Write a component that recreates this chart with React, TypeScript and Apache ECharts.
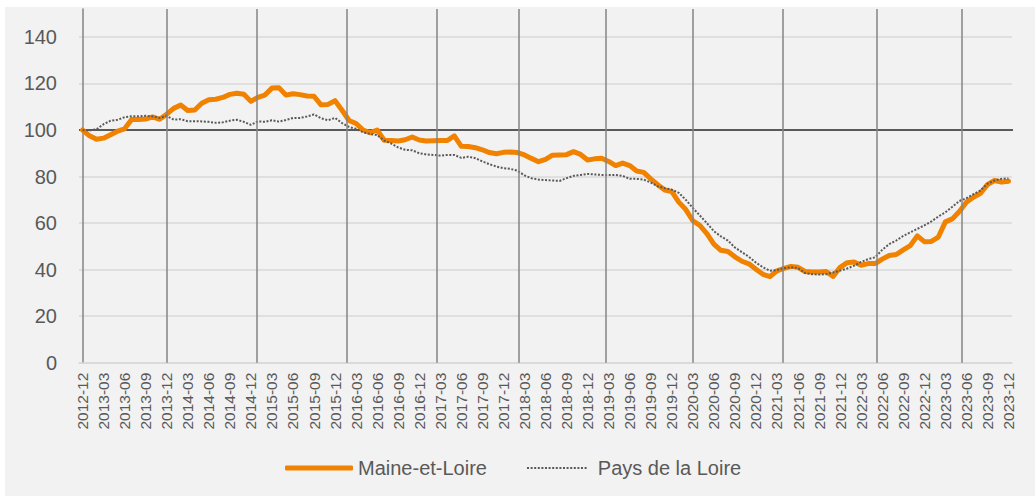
import React, { useEffect, useRef } from "react";
import * as echarts from "echarts";

// Monthly categories 2012-12 .. 2023-12
const categories: string[] = [];
for (let y = 2012; y <= 2023; y++) {
  for (let m = 1; m <= 12; m++) {
    if (y === 2012 && m < 12) continue;
    categories.push(`${y}-${String(m).padStart(2, "0")}`);
  }
}

const maineEtLoire: number[] = [
  100, 97.5, 96, 96.5, 98, 99.5, 100.5, 104.5, 104.5, 104.7, 105.6, 104.6, 106.8, 109.3, 110.7,
  108.4, 108.6, 111.5, 113, 113.2, 114, 115.3, 115.8, 115.4, 112.3, 114, 115, 118, 118.2, 115,
  115.6, 115.2, 114.6, 114.5, 110.8, 111, 112.6, 108.5, 104.1, 102.8, 100, 98.8, 100, 95.6, 95.5,
  95.3, 95.8, 97, 95.7, 95.3, 95.4, 95.5, 95.5, 97.5, 93, 92.9, 92.4, 91.5, 90.3, 89.8,
  90.4, 90.5, 90.3, 89.3, 87.8, 86.4, 87.4, 89.2, 89.3, 89.4, 90.7, 89.5, 87.1, 87.6, 87.9,
  86.5, 84.7, 85.8, 84.7, 82.4, 81.8, 79, 76.5, 74.2, 73.5, 69, 65.8, 61, 59, 55.5,
  51, 48.3, 47.8, 45.5, 43.6, 42.5, 40.2, 38, 37, 39.5, 40.5, 41.4, 41, 39.2, 39,
  39, 39.2, 37.1, 41, 43, 43.3, 41.9, 42.6, 42.6, 44.5, 46.1, 46.5, 48.5, 50.3, 54.5,
  52, 52.1, 54, 60.5, 61.8, 65, 69, 71.1, 72.8, 76.5, 78.3, 77.6, 78,
];

const paysDeLaLoire: number[] = [
  100, 99.8, 100.3, 102.5, 104, 104.4, 105.5, 105.9, 105.9, 106.1, 105.8, 105.2, 106, 104.5, 104.6,
  103.8, 103.8, 103.7, 103.5, 103.1, 103.3, 104, 104.4, 103.5, 102.2, 103.7, 103.5, 104.2, 103.6, 104.3,
  105.2, 105.2, 105.8, 106.7, 105, 104.2, 105.2, 103, 101.3, 100.5, 99, 98.3, 97.8, 95.5, 94.2,
  92.5, 91.5, 91.3, 90, 89.5, 89.3, 89, 89.3, 89.3, 88, 88.5, 87.9, 86.5, 85.3, 84.3,
  83.6, 83.3, 82.5, 80.5, 79.3, 78.7, 78.5, 78.3, 78.1, 79.3, 80.3, 80.7, 81.1, 80.9, 80.7,
  80.7, 80.7, 80.3, 79, 79, 78.7, 77.4, 75.8, 75, 74.4, 73, 70, 66.5, 63.3, 60,
  56.5, 54.3, 52.5, 49.5, 47.5, 45.5, 43, 41, 39.5, 39.8, 40.6, 41, 40.7, 38.5, 38,
  37.9, 38, 38.8, 39.6, 40.5, 41.7, 43.3, 44.5, 45.3, 48.5, 51, 52.5, 54.5, 56, 57.5,
  59, 60.7, 62.8, 64.6, 67, 69.5, 70.7, 72.4, 74, 76.9, 78.3, 79, 79.2,
];

const baseValue = 100;
// reference line span, in month units (0 = 2012-12)
const baseSpan: number[] = [-0.5, 134];
// vertical separators, in month units
const verticalMarks: number[] = [12.05, 24.9, 37.7, 50.5, 62.2, 74.6, 87.0, 99.8, 113.2, 125.4];

const FONT = "'Liberation Sans', Arial, sans-serif";
const TEXT = "#595959";
const ORANGE = "#F08200";
const GRID = "#d9d9d9";
const VLINE = "#858585";

const dotPath =
  "path://" +
  Array.from({ length: 17 }, (_, k) => `M${(k * 3.6).toFixed(2)},0h2v2h-2z`).join("");

export default function App() {
  const ref = useRef<HTMLDivElement>(null);
  useEffect(() => {
    if (!ref.current) return;
    const chart = echarts.init(ref.current, undefined, { renderer: "svg" });
    chart.setOption({
      animation: false,
      backgroundColor: "#f2f2f2",
      textStyle: { fontFamily: FONT },
      grid: { left: 74, right: 23, top: 2, bottom: 133.3, containLabel: false },
      legend: [
        {
          data: [{ name: "Maine-et-Loire", icon: "roundRect" }],
          left: 280,
          top: 451,
          padding: 0,
          itemWidth: 68,
          itemHeight: 5,
          itemStyle: { borderWidth: 0 },
          textStyle: { fontSize: 20, color: TEXT, fontFamily: FONT },
          selectedMode: false,
        },
        {
          data: [{ name: "Pays de la Loire", icon: dotPath }],
          left: 522,
          top: 451,
          padding: 0,
          itemWidth: 60,
          itemHeight: 2,
          itemStyle: { borderWidth: 0 },
          textStyle: { fontSize: 20, color: TEXT, fontFamily: FONT, padding: [0, 0, 0, 6] },
          selectedMode: false,
        },
      ],
      xAxis: [
        {
          type: "category",
          data: categories,
          boundaryGap: true,
          axisLine: { show: true, lineStyle: { color: GRID, width: 1.5 } },
          axisTick: { show: false },
          axisLabel: {
            interval: 2,
            rotate: 90,
            fontSize: 15.5,
            color: TEXT,
            margin: 10,
            fontFamily: FONT,
          },
          splitLine: { show: false },
        },
        {
          type: "value",
          min: -0.5,
          max: 132.5,
          position: "bottom",
          show: false,
          axisLine: { show: false },
          axisLabel: { show: false },
          axisTick: { show: false },
          splitLine: { show: false },
        },
      ],
      yAxis: {
        type: "value",
        min: 0,
        max: 152,
        interval: 20,
        axisLine: { show: true, lineStyle: { color: VLINE, width: 1.5 } },
        axisTick: { show: false },
        splitLine: {
          show: true,
          lineStyle: {
            color: [GRID, GRID, GRID, GRID, GRID, GRID, GRID, GRID, "rgba(0,0,0,0)"],
            width: 1.5,
          },
        },
        axisLabel: {
          fontSize: 20,
          color: TEXT,
          margin: 22,
          fontFamily: FONT,
          formatter: (v: number) => (v % 20 === 0 ? String(v) : ""),
        },
      },
      series: [
        {
          name: "base",
          type: "line",
          xAxisIndex: 1,
          data: baseSpan.map((x) => [x, baseValue]),
          clip: false,
          symbol: "none",
          silent: true,
          lineStyle: { color: "#595959", width: 2 },
          z: 2,
          markLine: {
            silent: true,
            animation: false,
            symbol: ["none", "none"],
            label: { show: false },
            lineStyle: { color: VLINE, width: 1.5, type: "solid" },
            data: verticalMarks.map((x) => ({ xAxis: x })),
          },
        },
        {
          name: "Maine-et-Loire",
          type: "line",
          data: maineEtLoire,
          symbol: "none",
          color: ORANGE,
          itemStyle: { color: ORANGE },
          lineStyle: { color: ORANGE, width: 5, cap: "round", join: "round" },
          z: 3,
        },
        {
          name: "Pays de la Loire",
          type: "line",
          data: paysDeLaLoire,
          symbol: "none",
          color: TEXT,
          itemStyle: { color: TEXT },
          lineStyle: { color: TEXT, width: 2, type: [2, 1.6] },
          z: 4,
        },
      ],
    });
    return () => chart.dispose();
  }, []);
  return (
    <div
      ref={ref}
      style={{ position: "absolute", left: 5, top: 7, width: 1030, height: 489 }}
    />
  );
}
